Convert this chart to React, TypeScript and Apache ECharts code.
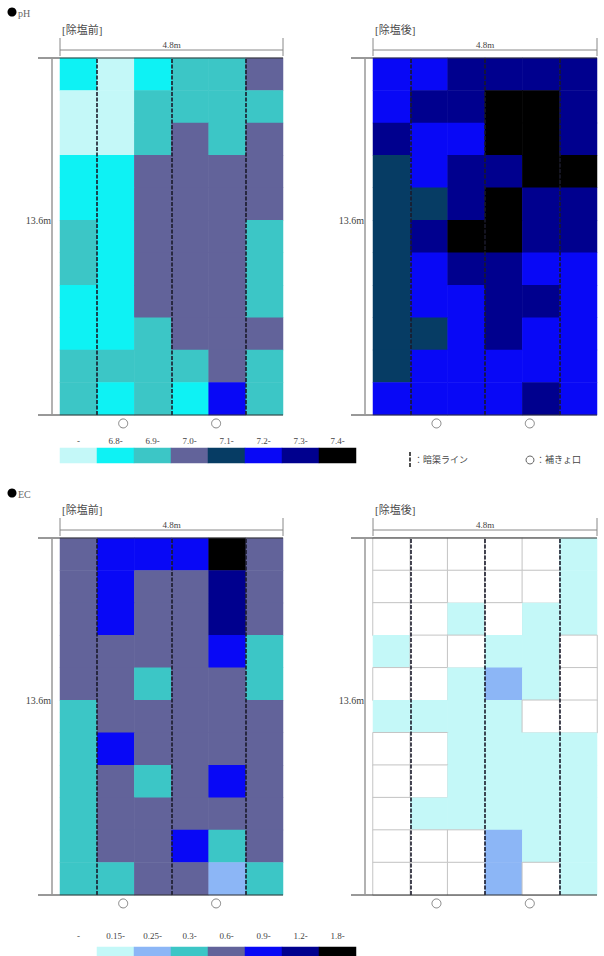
import React, { useEffect, useRef } from "react";
import * as echarts from "echarts";

const COLS = ["1", "2", "3", "4", "5", "6"];
const ROWS = ["1", "2", "3", "4", "5", "6", "7", "8", "9", "10", "11"];

const phLabels = ["-", "6.8-", "6.9-", "7.0-", "7.1-", "7.2-", "7.3-", "7.4-"];
const phColors = ["#c4f8f8", "#0ef2f4", "#3cc6c6", "#62639a", "#063c64", "#0808f6", "#00008e", "#000000"];
const ecLabels = ["-", "0.15-", "0.25-", "0.3-", "0.6-", "0.9-", "1.2-", "1.8-"];
const ecColors = ["#ffffff", "#c4f8f8", "#8cb6f6", "#3cc6c6", "#62639a", "#0808f6", "#00008e", "#000000"];

// class codes per cell, rows top -> bottom, columns left -> right
const phBefore = [
  [1, 0, 1, 2, 2, 3],
  [0, 0, 2, 2, 2, 2],
  [0, 0, 2, 3, 2, 3],
  [1, 1, 3, 3, 3, 3],
  [1, 1, 3, 3, 3, 3],
  [2, 1, 3, 3, 3, 2],
  [2, 1, 3, 3, 3, 2],
  [1, 1, 3, 3, 3, 2],
  [1, 1, 2, 3, 3, 3],
  [2, 2, 2, 2, 3, 2],
  [2, 1, 2, 1, 5, 2],
];
const phAfter = [
  [5, 5, 6, 6, 6, 6],
  [5, 6, 6, 7, 7, 6],
  [6, 5, 5, 7, 7, 6],
  [4, 5, 6, 6, 7, 7],
  [4, 4, 6, 7, 6, 6],
  [4, 6, 7, 7, 6, 6],
  [4, 5, 6, 6, 5, 5],
  [4, 5, 5, 6, 6, 5],
  [4, 4, 5, 6, 5, 5],
  [4, 5, 5, 5, 5, 5],
  [5, 5, 5, 5, 6, 5],
];
const ecBefore = [
  [4, 5, 5, 5, 7, 4],
  [4, 5, 4, 4, 6, 4],
  [4, 5, 4, 4, 6, 4],
  [4, 4, 4, 4, 5, 3],
  [4, 4, 3, 4, 4, 3],
  [3, 4, 4, 4, 4, 4],
  [3, 5, 4, 4, 4, 4],
  [3, 4, 3, 4, 5, 4],
  [3, 4, 4, 4, 4, 4],
  [3, 4, 4, 5, 3, 4],
  [3, 3, 4, 4, 2, 3],
];
const ecAfter = [
  [0, 0, 0, 0, 0, 1],
  [0, 0, 0, 0, 0, 1],
  [0, 0, 1, 0, 1, 1],
  [1, 0, 0, 1, 1, 0],
  [0, 0, 1, 2, 1, 0],
  [1, 1, 1, 1, 0, 0],
  [0, 0, 1, 1, 1, 1],
  [0, 0, 1, 1, 1, 1],
  [0, 1, 1, 1, 1, 1],
  [0, 0, 0, 2, 1, 1],
  [0, 0, 0, 2, 0, 1],
];

const drainLines = [1, 3, 5];
const outletPos = [1.7, 4.2];

const FONT = "'Liberation Serif', 'Noto Sans CJK JP', serif";

const panels = [
  { title: "[除塩前]", data: phBefore, kind: "ph", left: 60, top: 58, width: 223, height: 357, cellBorder: false },
  { title: "[除塩後]", data: phAfter, kind: "ph", left: 373, top: 58, width: 224, height: 357, cellBorder: false },
  { title: "[除塩前]", data: ecBefore, kind: "ec", left: 60, top: 538, width: 223, height: 357, cellBorder: false },
  { title: "[除塩後]", data: ecAfter, kind: "ec", left: 373, top: 538, width: 224, height: 357, cellBorder: true },
];

const legends = [
  { labels: phLabels, kind: "ph", left: 60, top: 448, margin: 3 },
  { labels: ecLabels, kind: "ec", left: 60, top: 947, margin: 7 },
];

function buildOption() {
  const grid: any[] = [];
  const xAxis: any[] = [];
  const yAxis: any[] = [];
  const series: any[] = [];
  const graphic: any[] = [];
  const phSeries: number[] = [];
  const ecSeries: number[] = [];

  panels.forEach((p, i) => {
    grid.push({ left: p.left, top: p.top, width: p.width, height: p.height });
    xAxis.push({ type: "category", gridIndex: i, data: COLS, show: false });
    xAxis.push({ type: "value", gridIndex: i, min: 0, max: 6, show: false });
    yAxis.push({ type: "category", gridIndex: i, data: ROWS, inverse: true, show: false });
    yAxis.push({ type: "value", gridIndex: i, min: 0, max: 11, show: false });

    const cells: any[] = [];
    p.data.forEach((row, r) =>
      row.forEach((code, c) => {
        const white = p.cellBorder && code === 0;
        cells.push(
          white
            ? { value: [c, r, code], itemStyle: { borderColor: "#c4c4c4", borderWidth: 1 } }
            : { value: [c, r, code] }
        );
      })
    );
    (p.kind === "ph" ? phSeries : ecSeries).push(series.length);
    series.push({
      type: "heatmap",
      xAxisIndex: 2 * i,
      yAxisIndex: 2 * i,
      data: cells,
      silent: true,
    });
    series.push({
      type: "lines",
      coordinateSystem: "cartesian2d",
      xAxisIndex: 2 * i + 1,
      yAxisIndex: 2 * i + 1,
      z: 5,
      silent: true,
      data: drainLines.map((x) => ({ coords: [[x, 0], [x, 11]] })),
      lineStyle: { color: "#1a1a2a", width: 1.6, type: [4, 1.5], opacity: 1 },
    });
    series.push({
      type: "scatter",
      xAxisIndex: 2 * i + 1,
      yAxisIndex: 2 * i + 1,
      clip: false,
      silent: true,
      symbol: "circle",
      symbolSize: 9,
      data: outletPos.map((x) => [x, -0.26]),
      itemStyle: { color: "#ffffff", borderColor: "#666", borderWidth: 1 },
    });

    const L = p.left;
    const T = p.top;
    const R = p.left + p.width;
    const B = p.top + p.height;
    graphic.push(
      { type: "line", shape: { x1: L - 22, y1: T, x2: R, y2: T }, style: { stroke: "#333", lineWidth: 1 }, z: 10 },
      { type: "line", shape: { x1: L - 22, y1: B, x2: R, y2: B }, style: { stroke: "#333", lineWidth: 1 }, z: 10 },
      { type: "line", shape: { x1: L - 8, y1: T, x2: L - 8, y2: B }, style: { stroke: "#999", lineWidth: 1.5 }, z: 10 },
      { type: "line", shape: { x1: L, y1: T - 8, x2: R, y2: T - 8 }, style: { stroke: "#888", lineWidth: 1 }, z: 10 },
      { type: "line", shape: { x1: L, y1: T - 20, x2: L, y2: T - 2 }, style: { stroke: "#888", lineWidth: 1 }, z: 10 },
      { type: "line", shape: { x1: R, y1: T - 20, x2: R, y2: T - 2 }, style: { stroke: "#888", lineWidth: 1 }, z: 10 },
      {
        type: "text",
        x: (L + R) / 2,
        y: T - 13,
        style: { text: "4.8m", fill: "#444", font: `9px ${FONT}`, textAlign: "center", textVerticalAlign: "middle" },
        z: 10,
      },
      {
        type: "text",
        x: L - 9,
        y: T + 162,
        style: { text: "13.6m", fill: "#444", font: `10px ${FONT}`, textAlign: "right", textVerticalAlign: "middle" },
        z: 10,
      },
      {
        type: "text",
        x: L + 2,
        y: T - 28,
        style: { text: p.title, fill: "#4a4a4a", font: `11px ${FONT}`, textAlign: "left", textVerticalAlign: "middle" },
        z: 10,
      }
    );
  });

  legends.forEach((lg, j) => {
    const gi = panels.length + j;
    grid.push({ left: lg.left, top: lg.top, width: 37 * lg.labels.length, height: 15 });
    xAxis.push({
      type: "category",
      gridIndex: gi,
      data: lg.labels,
      position: "top",
      axisLine: { show: false },
      axisTick: { show: false },
      splitLine: { show: false },
      axisLabel: { interval: 0, fontSize: 9, margin: lg.margin, color: "#444", fontFamily: FONT },
    });
    yAxis.push({ type: "category", gridIndex: gi, data: ["0"], show: false });
    (lg.kind === "ph" ? phSeries : ecSeries).push(series.length);
    series.push({
      type: "heatmap",
      xAxisIndex: xAxis.length - 1,
      yAxisIndex: yAxis.length - 1,
      silent: true,
      data: lg.labels.map((_, k) => [k, 0, k]),
    });
  });

  graphic.push(
    { type: "circle", shape: { cx: 12, cy: 12, r: 4.5 }, style: { fill: "#000" } },
    { type: "text", x: 18, y: 13, style: { text: "pH", fill: "#666", font: `10px ${FONT}`, textVerticalAlign: "middle" } },
    { type: "circle", shape: { cx: 12, cy: 493, r: 4.5 }, style: { fill: "#000" } },
    { type: "text", x: 18, y: 494, style: { text: "EC", fill: "#666", font: `10px ${FONT}`, textVerticalAlign: "middle" } },
    { type: "line", shape: { x1: 410, y1: 452, x2: 410, y2: 467 }, style: { stroke: "#222", lineWidth: 1.6, lineDash: [4, 1.5] } },
    { type: "text", x: 414, y: 460, style: { text: "：暗渠ライン", fill: "#444", font: `9px ${FONT}`, textVerticalAlign: "middle" } },
    { type: "circle", shape: { cx: 530, cy: 460, r: 4 }, style: { fill: "#fff", stroke: "#666", lineWidth: 1 } },
    { type: "text", x: 536, y: 460, style: { text: "：補きょ口", fill: "#444", font: `9px ${FONT}`, textVerticalAlign: "middle" } }
  );

  const pieces = (colors: string[]) => colors.map((color, k) => ({ value: k, color }));

  return {
    animation: false,
    backgroundColor: "#ffffff",
    grid,
    xAxis,
    yAxis,
    visualMap: [
      { type: "piecewise", show: false, dimension: 2, seriesIndex: phSeries, pieces: pieces(phColors) },
      { type: "piecewise", show: false, dimension: 2, seriesIndex: ecSeries, pieces: pieces(ecColors) },
    ],
    series,
    graphic,
  };
}

export default function App() {
  const ref = useRef<HTMLDivElement>(null);
  useEffect(() => {
    if (!ref.current) return;
    const chart = echarts.init(ref.current, undefined, { renderer: "svg" });
    chart.setOption(buildOption() as any);
    return () => chart.dispose();
  }, []);
  return (
    <div
      ref={ref}
      style={{ position: "absolute", left: 0, top: 0, width: 604, height: 956, background: "#fff" }}
    />
  );
}
